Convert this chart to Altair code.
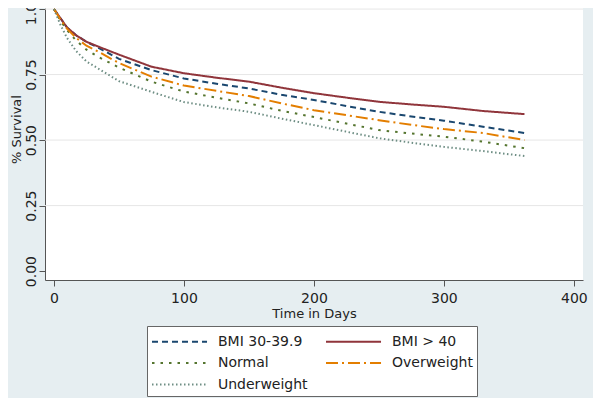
import altair as alt
import pandas as pd

# Time points (days) at which the survival curves were read
days = [0, 5, 10, 17, 25, 35, 50, 75, 100, 125, 150, 175, 200, 225, 250, 275, 300, 330, 362]

bmi_30_39 = [1.0, .965, .93, .90, .875, .85, .81, .767, .735, .715, .697, .673, .653, .63, .608, .59, .574, .551, .527]
bmi_40 = [1.0, .965, .93, .90, .875, .855, .826, .78, .755, .738, .723, .70, .679, .662, .646, .636, .627, .611, .599]
normal = [1.0, .955, .92, .88, .845, .815, .777, .723, .685, .662, .64, .612, .588, .563, .538, .525, .513, .494, .469]
overweight = [1.0, .96, .925, .89, .86, .835, .794, .742, .708, .688, .668, .64, .614, .595, .576, .558, .542, .527, .50]
underweight = [1.0, .94, .89, .84, .80, .77, .725, .684, .645, .625, .608, .582, .557, .532, .507, .49, .474, .458, .439]

groups = ["BMI 30-39.9", "BMI > 40", "Normal", "Overweight", "Underweight"]
series = [bmi_30_39, bmi_40, normal, overweight, underweight]

y_ticks = [0, 0.25, 0.5, 0.75, 1.0]
x_ticks = [0, 100, 200, 300, 400]

rows = []
for g, vals in zip(groups, series):
    for t, v in zip(days, vals):
        rows.append({"group": g, "t": t, "s": v})
df = pd.DataFrame(rows)

colors = ["#1a476f", "#90353b", "#55752f", "#e37e00", "#6e8e84"]
dashes = [[6, 4], [1, 0], [2.5, 6], [12, 4, 2, 4], [1.5, 2.5]]
widths = [2, 2, 3.2, 2, 1.5]

grid_df = pd.DataFrame({"v": [v for v in y_ticks if v > 0]})

yscale = alt.Scale(domain=[-0.034, 1.004], nice=False, zero=False)

grid = alt.Chart(grid_df).mark_rule(color="#e6e6e6", strokeWidth=1).encode(
    y=alt.Y("v:Q", scale=yscale)
)

lines = alt.Chart(df).mark_line().encode(
    x=alt.X(
        "t:Q",
        scale=alt.Scale(domain=[-6.9, 407], nice=False, zero=False),
        axis=alt.Axis(
            values=x_ticks,
            title="Time in Days",
            grid=False,
            tickSize=6,
            labelPadding=5,
            labelFontSize=14,
            titleFontSize=13,
            titleFontWeight="normal",
            titleY=33,
            titleBaseline="middle",
        ),
    ),
    y=alt.Y(
        "s:Q",
        scale=yscale,
        axis=alt.Axis(
            values=y_ticks,
            format=".2f",
            title="% Survival",
            grid=False,
            tickSize=6,
            labelAngle=270,
            labelAlign="center",
            labelBaseline="alphabetic",
            labelPadding=4,
            labelFontSize=14,
            titleFontSize=13,
            titleFontWeight="normal",
            titleAngle=270,
            titleAlign="center",
            titleBaseline="middle",
            titleX=-29,
            titleY=121,
        ),
    ),
    color=alt.Color(
        "group:N",
        scale=alt.Scale(domain=groups, range=colors),
        legend=alt.Legend(
            title=None,
            orient="none",
            legendX=102,
            legendY=318,
            columns=2,
            direction="horizontal",
            symbolType="M-1,0H4.24",
            symbolSize=441,
            labelOffset=44,
            labelFontSize=14,
            columnPadding=14,
            rowPadding=2.5,
            padding=4,
            strokeColor="#666666",
            fillColor="white",
        ),
    ),
    strokeDash=alt.StrokeDash(
        "group:N", scale=alt.Scale(domain=groups, range=dashes), legend=alt.Legend(title=None)
    ),
    strokeWidth=alt.StrokeWidth(
        "group:N", scale=alt.Scale(domain=groups, range=widths), legend=alt.Legend(title=None)
    ),
)

chart = (
    alt.layer(grid, lines)
    .properties(
        width=538,
        height=272,
        autosize=alt.AutoSizeParams(type="none"),
        padding={"left": 37, "top": 0, "right": 10, "bottom": 118},
        background="#e6eef1",
    )
    .configure_view(fill="white", strokeWidth=0)
    .configure_axis(
        domainColor="#555555",
        tickColor="#555555",
        labelColor="#222222",
        titleColor="#222222",
        labelFont="DejaVu Sans",
        titleFont="DejaVu Sans",
    )
    .configure_legend(labelFont="DejaVu Sans", labelColor="#222222")
)

chart.save("out.html", embed_options={"renderer": "svg", "actions": False})
